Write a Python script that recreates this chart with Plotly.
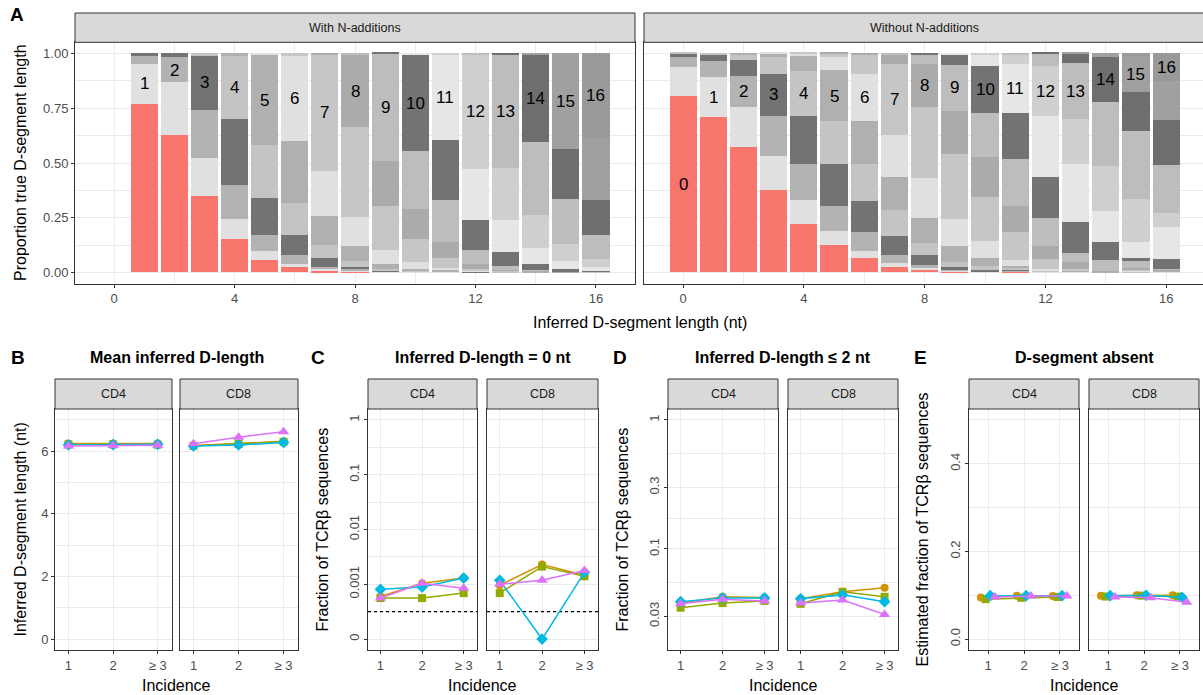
import plotly.graph_objects as go

W, H = 1203, 695
FONT = "Liberation Sans, Arial, Helvetica, sans-serif"

# ---------------- DATA ----------------
# Panel A: proportion of each true D-segment length (index = true length 0..16)
with_n_inferred = list(range(1, 17))
with_n_props = [
    [0.769, 0.182, 0.037, 0.012],
    [0.628, 0.238, 0.114, 0.020],
    [0.350, 0.173, 0.219, 0.246, 0.012],
    [0.153, 0.092, 0.155, 0.300, 0.288, 0.012],
    [0.058, 0.041, 0.073, 0.168, 0.242, 0.410, 0.008],
    [0.027, 0.013, 0.041, 0.091, 0.146, 0.282, 0.388, 0.012],
    [0.009, 0.008, 0.009, 0.042, 0.058, 0.132, 0.206, 0.531, 0.005],
    [0.004, 0.006, 0.004, 0.012, 0.027, 0.066, 0.135, 0.410, 0.328, 0.008],
    [0.001, 0.001, 0.002, 0.004, 0.006, 0.023, 0.064, 0.201, 0.206, 0.489, 0.003],
    [0.001, 0.001, 0.001, 0.002, 0.003, 0.006, 0.032, 0.105, 0.137, 0.265, 0.439, 0.008],
    [0.001, 0.001, 0.001, 0.001, 0.002, 0.004, 0.010, 0.046, 0.073, 0.190, 0.275, 0.388, 0.008],
    [0, 0, 0.001, 0.001, 0.001, 0.001, 0.001, 0.012, 0.020, 0.064, 0.137, 0.233, 0.524, 0.005],
    [0, 0, 0, 0.001, 0.001, 0.001, 0.002, 0.003, 0.004, 0.017, 0.064, 0.145, 0.239, 0.515, 0.008],
    [0, 0, 0, 0, 0.001, 0.001, 0.001, 0.002, 0.003, 0.004, 0.025, 0.074, 0.150, 0.335, 0.396, 0.008],
    [0, 0, 0, 0, 0, 0, 0, 0.001, 0.001, 0.001, 0.011, 0.036, 0.078, 0.206, 0.229, 0.437],
    [0, 0, 0, 0, 0, 0, 0.001, 0.001, 0, 0.001, 0.003, 0.018, 0.035, 0.110, 0.160, 0.285, 0.386],
]
without_n_inferred = list(range(0, 17))
without_n_props = [
    [0.802, 0.133, 0.048, 0.014, 0.003],
    [0.707, 0.182, 0.073, 0.030, 0.008],
    [0.570, 0.182, 0.145, 0.073, 0.025, 0.005],
    [0.374, 0.158, 0.182, 0.192, 0.074, 0.017, 0.003],
    [0.222, 0.109, 0.164, 0.219, 0.202, 0.069, 0.012, 0.003],
    [0.123, 0.068, 0.113, 0.191, 0.193, 0.233, 0.059, 0.017, 0.003],
    [0.064, 0.035, 0.083, 0.142, 0.171, 0.193, 0.218, 0.089, 0.005],
    [0.027, 0.016, 0.038, 0.086, 0.116, 0.153, 0.192, 0.323, 0.038, 0.011],
    [0.012, 0.008, 0.015, 0.043, 0.056, 0.115, 0.180, 0.323, 0.199, 0.041, 0.008],
    [0.004, 0.004, 0.004, 0.015, 0.020, 0.075, 0.123, 0.296, 0.196, 0.210, 0.045, 0.008],
    [0.001, 0.002, 0.003, 0.005, 0.019, 0.037, 0.076, 0.201, 0.182, 0.201, 0.215, 0.050, 0.008],
    [0.002, 0.002, 0.003, 0.005, 0.006, 0.012, 0.026, 0.128, 0.118, 0.215, 0.209, 0.224, 0.041, 0.009],
    [0.001, 0.001, 0.001, 0.002, 0.002, 0.003, 0.005, 0.046, 0.059, 0.128, 0.187, 0.279, 0.228, 0.055, 0.003],
    [0.001, 0.001, 0.001, 0.001, 0.002, 0.002, 0.003, 0.004, 0.032, 0.041, 0.142, 0.265, 0.205, 0.256, 0.041, 0.003],
    [0, 0, 0, 0, 0.001, 0.001, 0.001, 0.001, 0.002, 0.050, 0.083, 0.141, 0.206, 0.292, 0.205, 0.017],
    [0, 0, 0, 0.001, 0.002, 0.002, 0.003, 0.004, 0.006, 0.034, 0.013, 0.074, 0.196, 0.310, 0.178, 0.165, 0.012],
    [0.001, 0.001, 0.001, 0.001, 0.001, 0.002, 0.002, 0.002, 0.002, 0.002, 0.046, 0.146, 0.064, 0.219, 0.206, 0.178, 0.126],
]
true_lengths = list(range(17))

incidence = [1, 2, 3]
incidence_labels = ["1", "2", "≥ 3"]
series_names = ["Series 1", "Series 2", "Series 3", "Series 4"]

# Panel B: mean inferred D-length (order: series 1..4)
mean_len_cd4 = [[6.25, 6.25, 6.25], [6.22, 6.22, 6.21], [6.20, 6.21, 6.22], [6.17, 6.18, 6.19]]
mean_len_cd8 = [[6.18, 6.25, 6.32], [6.17, 6.23, 6.30], [6.17, 6.20, 6.28], [6.24, 6.45, 6.62]]
# Panel C: fraction with inferred D-length = 0
zero_len_cd4 = [[0.00060, 0.00104, 0.00130], [0.00056, 0.00056, 0.00069],
                [0.00081, 0.00089, 0.00130], [0.00056, 0.00104, 0.00085]]
zero_len_cd8 = [[0.00096, 0.00230, 0.00146], [0.00069, 0.00210, 0.00140],
                [0.00118, 0.0, 0.00165], [0.00100, 0.00118, 0.00178]]
# Panel D: fraction with inferred D-length <= 2
le2_cd4 = [[0.0380, 0.0425, 0.0420], [0.0350, 0.0380, 0.0395],
           [0.0390, 0.0417, 0.0417], [0.0375, 0.0407, 0.0395]]
le2_cd8 = [[0.0410, 0.0465, 0.0500], [0.0375, 0.0465, 0.0425],
           [0.0410, 0.0440, 0.0390], [0.0380, 0.0402, 0.0310]]
# Panel E: estimated fraction with D-segment absent
absent_cd4 = [[0.095, 0.099, 0.098], [0.091, 0.094, 0.096], [0.099, 0.099, 0.099], [0.096, 0.098, 0.098]]
absent_cd8 = [[0.099, 0.100, 0.100], [0.097, 0.099, 0.097], [0.099, 0.100, 0.095], [0.096, 0.094, 0.084]]

zero_floor = 1e-4            # where "0" is drawn on the pseudo-log scale
zero_threshold = 10 ** -3.5  # dotted reference line

# ---------------- STYLE ----------------
true_len_colors = ["#F8766D", "#E0E0E0", "#B3B3B3", "#737373", "#C4C4C4", "#B0B0B0",
                   "#E0E0E0", "#C6C6C6", "#ABABAB", "#BDBDBD", "#737373", "#E6E6E6",
                   "#CFCFCF", "#BDBDBD", "#6E6E6E", "#A0A0A0", "#999999"]
series_colors = ["#D39200", "#93AA00", "#00B9E3", "#DB72FB"]
series_symbols = ["circle", "square", "diamond", "triangle-up"]
series_sizes = [8, 8, 9, 10]
dodge = [-0.2, -0.07, 0.06, 0.19]

GRID = "#EBEBEB"
BORDER = "#333333"
TICKC = "#4D4D4D"

panels = {
    1: (75, 635, 42.3, 283.7), 2: (644, 1203, 42.3, 283.7),
    3: (55, 172, 409, 650), 4: (180, 298, 409, 650),
    5: (368, 477, 409, 650), 6: (487, 598, 409, 650),
    7: (668, 778, 409, 650), 8: (788, 898, 409, 650),
    9: (969, 1079, 409, 650), 10: (1089, 1199, 409, 650),
}


def px(x):
    return x / W


def py(y):
    return 1 - y / H


fig = go.Figure()

# ---- Panel A bars ----
for t in true_lengths:
    for props, xs, ax in ((with_n_props, with_n_inferred, ""), (without_n_props, without_n_inferred, "2")):
        ys = [p[t] if t < len(p) else 0 for p in props]
        fig.add_trace(go.Bar(x=xs, y=ys, width=0.9, marker=dict(color=true_len_colors[t], line=dict(width=0)),
                             xaxis="x" + ax, yaxis="y" + ax, showlegend=False, name=f"true {t}"))

annotations = []
for props, xs, ax in ((with_n_props, with_n_inferred, ""), (without_n_props, without_n_inferred, "2")):
    for i, p in zip(xs, props):
        base = sum(p[:i])
        annotations.append(dict(x=i, y=base + p[i] / 2, xref="x" + ax, yref="y" + ax, text=str(i),
                                showarrow=False, xanchor="center", yanchor="middle",
                                font=dict(size=17, color="black", family=FONT)))


# ---- line panels ----
def add_lines(data, axn, offsets=None, log_zero=False):
    for k in range(4):
        xs = [v + (offsets[k] if offsets else 0) for v in incidence]
        ys = data[k]
        if log_zero:
            ys = [v if v > 0 else zero_floor for v in ys]
        fig.add_trace(go.Scatter(
            x=xs, y=ys, mode="lines+markers", name=series_names[k], showlegend=False,
            xaxis=f"x{axn}", yaxis=f"y{axn}",
            line=dict(color=series_colors[k], width=1.5),
            marker=dict(color=series_colors[k], symbol=series_symbols[k], size=series_sizes[k], line=dict(width=0))))


# dotted threshold lines in C
for axn in (5, 6):
    fig.add_trace(go.Scatter(x=[0.7, 3.32], y=[zero_threshold, zero_threshold], mode="lines",
                             line=dict(color="black", width=1.3, dash="dot"), showlegend=False,
                             xaxis=f"x{axn}", yaxis=f"y{axn}", hoverinfo="skip"))

add_lines(mean_len_cd4, 3)
add_lines(mean_len_cd8, 4)
add_lines(zero_len_cd4, 5, log_zero=True)
add_lines(zero_len_cd8, 6, log_zero=True)
add_lines(le2_cd4, 7)
add_lines(le2_cd8, 8)
add_lines(absent_cd4, 9, offsets=dodge)
add_lines(absent_cd8, 10, offsets=dodge)

# ---- axes ----
layout = dict(width=W, height=H, margin=dict(l=0, r=0, t=0, b=0), paper_bgcolor="white",
              plot_bgcolor="white", barmode="stack", bargap=0, showlegend=False,
              font=dict(family=FONT))

common = dict(showline=True, mirror=True, linecolor=BORDER, linewidth=1, ticks="outside", ticklen=3,
              tickcolor=BORDER, tickwidth=1, showgrid=True, gridcolor=GRID, gridwidth=1.1,
              zeroline=False, tickfont=dict(size=13, color=TICKC, family=FONT))


def minor(vals):
    return dict(tickmode="array", tickvals=vals, showgrid=True, gridcolor=GRID, gridwidth=0.6, ticks="")


for n, (x0, x1, y0, y1) in panels.items():
    sx = "" if n == 1 else str(n)
    xa = dict(common, domain=[px(x0), px(x1)], anchor="y" + sx)
    ya = dict(common, domain=[py(y1), py(y0)], anchor="x" + sx)
    if n in (1, 2):
        xa.update(range=[-1.295, 17.295 if n == 1 else 17.22], tickmode="array", tickvals=[0, 4, 8, 12, 16],
                  minor=minor([2, 6, 10, 14]))
        ya.update(range=[-0.05, 1.05], tickmode="array", tickvals=[0, 0.25, 0.5, 0.75, 1.0],
                  ticktext=["0.00", "0.25", "0.50", "0.75", "1.00"], minor=minor([0.125, 0.375, 0.625, 0.875]))
    else:
        xr = [0.47, 3.53] if n in (9, 10) else [0.7, 3.32]
        xa.update(range=xr, tickmode="array", tickvals=incidence, ticktext=incidence_labels)
        if n in (3, 4):
            ya.update(range=[-0.35, 7.35], tickmode="array", tickvals=[0, 2, 4, 6], minor=minor([1, 3, 5, 7]))
        elif n in (5, 6):
            ya.update(type="log", range=[-4.2, 0.2], tickmode="array",
                      tickvals=[1e-4, 1e-3, 1e-2, 1e-1, 1], ticktext=["0", "0.001", "0.01", "0.1", "1"],
                      tickangle=-90, minor=minor([10 ** -3.5, 10 ** -2.5, 10 ** -1.5, 10 ** -0.5]))
        elif n in (7, 8):
            ya.update(type="log", range=[-1.784, 0.085], tickmode="array",
                      tickvals=[0.03, 0.1, 0.3, 1], ticktext=["0.03", "0.1", "0.3", "1"], tickangle=-90,
                      minor=minor([0.0548, 0.1732, 0.5477]))
        else:
            ya.update(range=[-0.025, 0.525], tickmode="array", tickvals=[0, 0.2, 0.4],
                      ticktext=["0.0", "0.2", "0.4"], tickangle=-90, minor=minor([0.1, 0.3, 0.5]))
    if n in (2, 4, 6, 8, 10):
        ya.update(showticklabels=False, ticks="")
    layout["xaxis" + sx] = xa
    layout["yaxis" + sx] = ya

# ---- strips ----
shapes = []


def strip(x0, x1, y0, y1, text):
    shapes.append(dict(type="rect", xref="paper", yref="paper", x0=px(x0), x1=px(x1), y0=py(y1), y1=py(y0),
                       fillcolor="#D9D9D9", line=dict(color=BORDER, width=1), layer="above"))
    annotations.append(dict(x=px((x0 + x1) / 2), y=py((y0 + y1) / 2), xref="paper", yref="paper", text=text,
                            showarrow=False, xanchor="center", yanchor="middle",
                            font=dict(size=12.5, color="#1A1A1A", family=FONT)))


strip(75, 635, 13, 42.3, "With N-additions")
strip(644, 1205, 13, 42.3, "Without N-additions")
for n in range(3, 11):
    x0, x1, _, _ = panels[n]
    strip(x0, x1, 379, 409, "CD4" if n % 2 == 1 else "CD8")


def text(t, x, y, size=16, bold=False, angle=0, color="black"):
    if bold:
        t = f"<b>{t}</b>"
    annotations.append(dict(x=px(x), y=py(y), xref="paper", yref="paper", text=t, showarrow=False,
                            textangle=angle, font=dict(size=size, color=color, family=FONT),
                            xanchor="center", yanchor="middle"))


text("A", 17, 15, size=19, bold=True)
text("Proportion true D-segment length", 20, 163, size=16, angle=-90)
text("Inferred D-segment length (nt)", 640, 322, size=16)

titles = [("B", 18, "Mean inferred D-length", 176.5, "Inferred D-segment length (nt)", 20, 3),
          ("C", 318, "Inferred D-length = 0 nt", 483, "Fraction of TCRβ sequences", 322, 5),
          ("D", 620, "Inferred D-length ≤ 2 nt", 783, "Fraction of TCRβ sequences", 622, 7),
          ("E", 920, "D-segment absent", 1084, "Estimated fraction of TCRβ sequences", 922, 9)]
for letter, lx, title, tx, ytitle, yx, n in titles:
    text(letter, lx, 357, size=19, bold=True)
    text(title, tx, 357, size=16, bold=True)
    text(ytitle, yx, 529.5, size=16, angle=-90)
    xc = (panels[n][0] + panels[n + 1][1]) / 2
    text("Incidence", xc, 685, size=16)

layout["shapes"] = shapes
layout["annotations"] = annotations
fig.update_layout(**layout)

fig.write_html("out.html")
